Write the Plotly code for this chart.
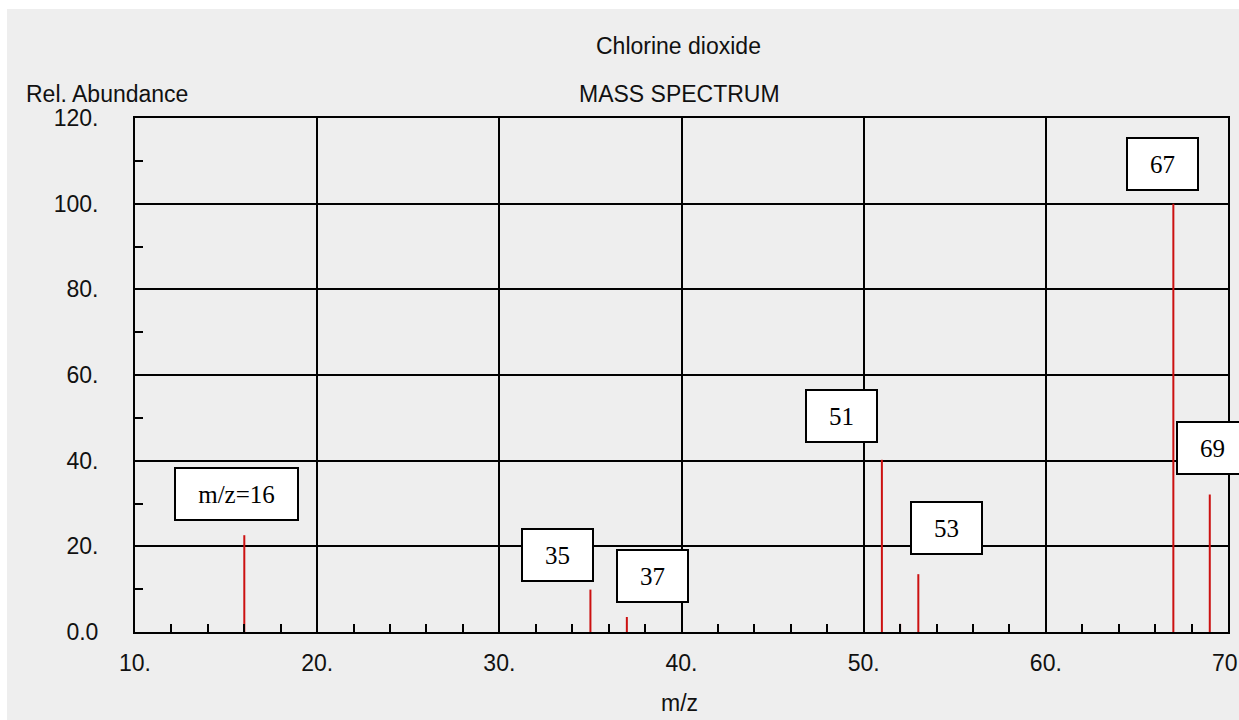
import plotly.graph_objects as go

# ---- data ----
mz_values = [16, 35, 37, 51, 52, 53, 67, 69]
rel_abundance = [22.6, 9.9, 3.5, 40.2, 1.9, 13.5, 100.0, 32.1]

label_mz = [16, 35, 37, 51, 53, 67, 69]
label_text = ["m/z=16", "35", "37", "51", "53", "67", "69"]

x_tick_vals = [10, 20, 30, 40, 50, 60, 70]
x_tick_text = ["10.", "20.", "30.", "40.", "50.", "60.", "70."]
y_tick_vals = [0, 20, 40, 60, 80, 100, 120]
y_tick_text = ["0.0", "20.", "40.", "60.", "80.", "100.", "120."]

title_text = "Chlorine dioxide"
subtitle_text = "MASS SPECTRUM"
y_title = "Rel. Abundance"
x_title = "m/z"

# ---- styling / layout (pixel offsets of label boxes from their peak tops) ----
label_shift = {16: (-8, 41), 35: (-33, 35), 37: (26, 41), 51: (-40, 44),
               53: (28, 46), 67: (-11, 40), 69: (3, 47)}
BG = "#eeeeee"
SANS = "Liberation Sans, Arial, sans-serif"
SERIF = "Liberation Serif, Times New Roman, serif"

# stick spectrum as line segments
xs, ys = [], []
for m, a in zip(mz_values, rel_abundance):
    xs += [m, m, None]
    ys += [0, a, None]

fig = go.Figure()
fig.add_trace(go.Scatter(x=xs, y=ys, mode="lines",
                         line=dict(color="#cc1111", width=2),
                         hoverinfo="skip", showlegend=False))

abund_of = dict(zip(mz_values, rel_abundance))
annotations = []
for m, t in zip(label_mz, label_text):
    dx, dy = label_shift[m]
    annotations.append(dict(
        x=m, y=abund_of[m], xref="x", yref="y", text=t, showarrow=False,
        xanchor="center", yanchor="middle", xshift=dx, yshift=dy,
        font=dict(family=SERIF, size=25, color="black"),
        bgcolor="white", bordercolor="black", borderwidth=2, borderpad=9,
        width=103 if len(t) > 2 else 51, height=32, align="center", valign="middle"))

text_font = dict(family=SANS, size=23, color="#111111")
annotations += [
    dict(x=0.5, y=1, xref="paper", yref="paper", text=title_text, showarrow=False,
         xanchor="center", yanchor="middle", xshift=-3, yshift=72, font=text_font),
    dict(x=0.5, y=1, xref="paper", yref="paper", text=subtitle_text, showarrow=False,
         xanchor="center", yanchor="middle", xshift=-2, yshift=24, font=text_font),
    dict(x=0, y=1, xref="paper", yref="paper", text=y_title, showarrow=False,
         xanchor="left", yanchor="middle", xshift=-111, yshift=24, font=text_font),
    dict(x=0.5, y=0, xref="paper", yref="paper", text=x_title, showarrow=False,
         xanchor="center", yanchor="middle", xshift=-2, yshift=-71, font=text_font),
]

axis_common = dict(showline=True, linecolor="black", linewidth=2, mirror=True,
                   showgrid=True, gridcolor="black", gridwidth=1.5, zeroline=False,
                   ticks="inside", ticklen=8, tickwidth=1.5, tickcolor="black",
                   tickfont=text_font, fixedrange=True, ticklabeloverflow="allow")

fig.update_layout(
    width=1239, height=720,
    margin=dict(l=135, r=11, t=118, b=88, autoexpand=False),
    paper_bgcolor=BG, plot_bgcolor=BG,
    xaxis=dict(range=[10, 70], tickmode="array", tickvals=x_tick_vals,
               ticktext=x_tick_text, ticklabelstandoff=9,
               minor=dict(dtick=2, ticks="inside", ticklen=8, tickwidth=1.5,
                          tickcolor="black", showgrid=False),
               **axis_common),
    yaxis=dict(range=[0, 120], tickmode="array", tickvals=y_tick_vals,
               ticktext=y_tick_text, ticklabelstandoff=30,
               minor=dict(dtick=10, ticks="inside", ticklen=8, tickwidth=1.5,
                          tickcolor="black", showgrid=False),
               **axis_common),
    annotations=annotations,
    shapes=[
        dict(type="rect", xref="paper", yref="paper", layer="below",
             x0=-0.2, x1=1.1, y0=(632 - 9) / 514, y1=1.3,
             fillcolor="white", line=dict(width=0)),
        dict(type="rect", xref="paper", yref="paper", layer="below",
             x0=-0.2, x1=(7 - 135) / 1093, y0=-0.3, y1=1.3,
             fillcolor="white", line=dict(width=0)),
    ],
    showlegend=False,
)

fig.write_html(
    "out.html",
    config={"displayModeBar": False, "staticPlot": False},
    post_script="document.body.style.margin='0';document.body.style.padding='0';"
                "document.body.style.overflow='hidden';",
)
